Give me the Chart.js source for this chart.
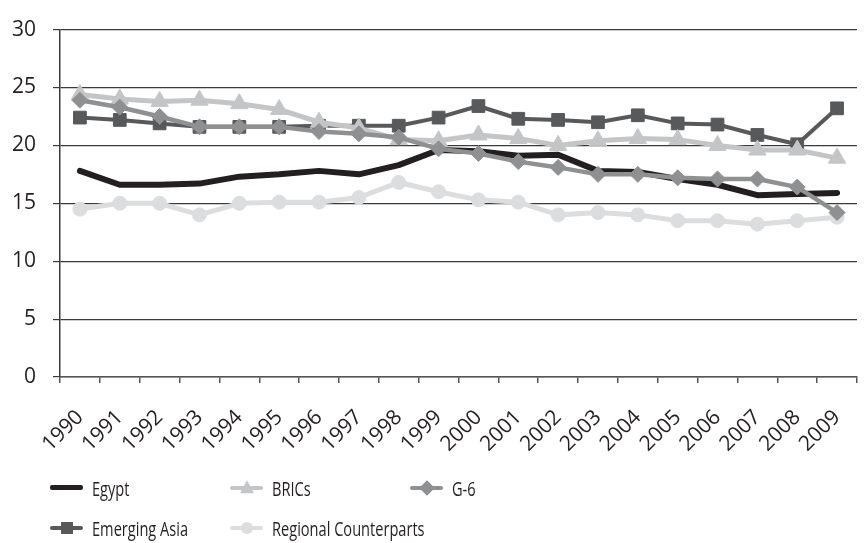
<!DOCTYPE html>
<html>
<head>
<meta charset="utf-8">
<script src="https://cdn.jsdelivr.net/npm/chart.js@4.4.1/dist/chart.umd.min.js"></script>
<style>
  html, body { margin: 0; padding: 0; background: #fff; overflow: hidden; }
  #wrap { position: relative; width: 868px; height: 543px; }
  #legend { font-family: "Open Sans", sans-serif; font-size: 20px; color: #231f20; }
  .item { position: absolute; height: 40px; display: flex; align-items: center; white-space: nowrap; }
  .sample { position: relative; width: 33px; height: 20px; margin-right: 9px; flex: none; }
  .sample .ln { position: absolute; left: 0; right: 0; top: 8px; height: 4px; border-radius: 2px; }
  .sample .mk { position: absolute; left: 50%; top: 50%; transform: translate(-50%, -50%); }
  .txt { display: inline-block; transform: scaleX(0.73); transform-origin: left center; }
</style>
</head>
<body>
<div id="wrap">
  <canvas id="chart"></canvas>
  <div id="legend"></div>
</div>
<script>
// data
const years = ['1990', '1991', '1992', '1993', '1994', '1995', '1996', '1997', '1998', '1999',
               '2000', '2001', '2002', '2003', '2004', '2005', '2006', '2007', '2008', '2009'];
const egypt        = [17.8, 16.6, 16.6, 16.7, 17.3, 17.5, 17.8, 17.5, 18.3, 19.6, 19.5, 19.1, 19.2, 17.8, 17.7, 17.1, 16.6, 15.7, 15.8, 15.9];
const brics        = [24.4, 24.0, 23.8, 23.9, 23.6, 23.1, 22.0, 21.5, 20.5, 20.4, 20.9, 20.6, 20.0, 20.4, 20.6, 20.5, 20.0, 19.6, 19.6, 18.9];
const g6           = [23.9, 23.3, 22.5, 21.6, 21.6, 21.6, 21.2, 21.0, 20.7, 19.7, 19.3, 18.6, 18.1, 17.5, 17.5, 17.2, 17.1, 17.1, 16.4, 14.2];
const emergingAsia = [22.4, 22.2, 21.9, 21.6, 21.6, 21.6, 21.7, 21.7, 21.7, 22.4, 23.4, 22.3, 22.2, 22.0, 22.6, 21.9, 21.8, 20.9, 20.1, 23.2];
const regional     = [14.5, 15.0, 15.0, 14.0, 15.0, 15.1, 15.1, 15.5, 16.8, 16.0, 15.3, 15.1, 14.0, 14.2, 14.0, 13.5, 13.5, 13.2, 13.5, 13.8];
const yMin = 0, yMax = 30, yStep = 5;

const tickFont = { family: '"Open Sans", sans-serif', size: 21 };

function series(label, data, color, width, style, radius, order) {
  return {
    label: label,
    data: data,
    borderColor: color,
    backgroundColor: color,
    borderWidth: width,
    borderCapStyle: 'round',
    borderJoinStyle: 'round',
    tension: 0,
    pointStyle: style,
    pointRadius: radius,
    pointBorderWidth: 1,
    pointBorderColor: color,
    pointBackgroundColor: color,
    order: order
  };
}

const datasets = [
  series('Egypt', egypt, '#231f20', 6, 'circle', 0, 4),
  series('BRICs', brics, '#c4c5c7', 5, 'triangle', 10, 2),
  series('G-6', g6, '#8f9092', 4.5, 'rectRot', 8, 1),
  series('Emerging Asia', emergingAsia, '#58595b', 4, 'rect', 9, 3),
  series('Regional Counterparts', regional, '#dcdddf', 5, 'circle', 7, 5)
];

const ctx = document.getElementById('chart').getContext('2d');
const chart = new Chart(ctx, {
  type: 'line',
  data: { labels: years, datasets: datasets },
  options: {
    responsive: true,
    maintainAspectRatio: false,
    animation: false,
    layout: { padding: { top: 22, right: 10, bottom: 86, left: 0 } },
    plugins: {
      legend: { display: false },
      tooltip: { enabled: false }
    },
    scales: {
      x: {
        offset: true,
        grid: { offset: true, drawOnChartArea: false, tickLength: 6, color: '#555', lineWidth: 1.5 },
        border: { color: '#555', width: 1.5 },
        ticks: { font: tickFont, color: '#231f20', maxRotation: 45, minRotation: 45, padding: 22, autoSkip: false },
        afterFit: function (s) {
          s.height = 80;
          s.paddingLeft = 0;
          s.paddingRight = 0;
        }
      },
      y: {
        min: yMin,
        max: yMax,
        ticks: { stepSize: yStep, font: tickFont, color: '#231f20', padding: 17 },
        grid: { color: '#3a3a3a', lineWidth: 1.2, tickLength: 7 },
        border: { color: '#3a3a3a', width: 1.5 },
        afterFit: function (s) { s.width = 60; }
      }
    }
  }
});

// legend in three columns, two rows
const legend = document.getElementById('legend');
const spots = [[50, 468], [230, 468], [410, 468], [50, 508], [230, 508]];
datasets.forEach(function (d, i) {
  const item = document.createElement('div');
  item.className = 'item';
  item.style.left = spots[i][0] + 'px';
  item.style.top = spots[i][1] + 'px';

  const sample = document.createElement('span');
  sample.className = 'sample';
  const ln = document.createElement('span');
  ln.className = 'ln';
  ln.style.background = d.borderColor;
  if (d.label === 'Egypt') { ln.style.height = '5px'; ln.style.top = '7px'; }
  sample.appendChild(ln);

  if (d.pointRadius > 0) {
    const mk = document.createElement('span');
    mk.className = 'mk';
    if (d.pointStyle === 'rect') {
      mk.style.width = '12px'; mk.style.height = '12px'; mk.style.background = d.borderColor;
    } else if (d.pointStyle === 'rectRot') {
      mk.style.width = '11px'; mk.style.height = '11px'; mk.style.background = d.borderColor;
      mk.style.transform = 'translate(-50%, -50%) rotate(45deg)';
    } else if (d.pointStyle === 'circle') {
      mk.style.width = '12px'; mk.style.height = '12px'; mk.style.background = d.borderColor;
      mk.style.borderRadius = '50%';
    } else if (d.pointStyle === 'triangle') {
      mk.style.width = '0'; mk.style.height = '0';
      mk.style.borderLeft = '7px solid transparent';
      mk.style.borderRight = '7px solid transparent';
      mk.style.borderBottom = '13px solid ' + d.borderColor;
      mk.style.transform = 'translate(-50%, -60%)';
    }
    sample.appendChild(mk);
  }

  const txt = document.createElement('span');
  txt.className = 'txt';
  txt.textContent = d.label;

  item.appendChild(sample);
  item.appendChild(txt);
  legend.appendChild(item);
});
</script>
</body>
</html>
